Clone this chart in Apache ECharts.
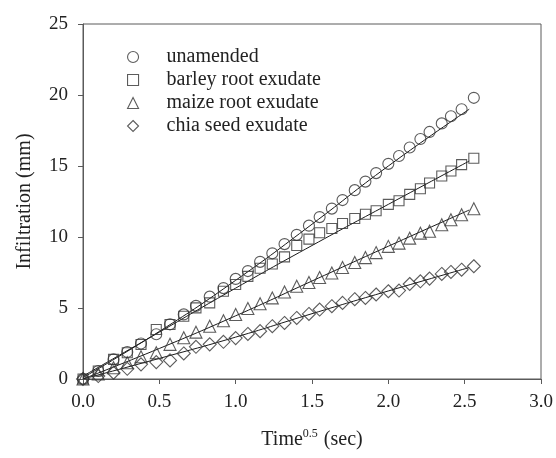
<!DOCTYPE html>
<html>
<head>
<meta charset="utf-8">
<script src="https://cdn.jsdelivr.net/npm/echarts@6/dist/echarts.min.js"></script>
<style>html,body{margin:0;padding:0;background:#fff}#c{width:556px;height:458px}</style>
</head>
<body>
<div id="c"></div>
<script>
// ---- data ----
var seriesNames = ['unamended', 'barley root exudate', 'maize root exudate', 'chia seed exudate'];
var timeX = [0, 0.10, 0.20, 0.29, 0.38, 0.48, 0.57, 0.66, 0.74, 0.83, 0.92, 1.00, 1.08, 1.16, 1.24,
             1.32, 1.40, 1.48, 1.55, 1.63, 1.70, 1.78, 1.85, 1.92, 2.00, 2.07, 2.14, 2.21, 2.27, 2.35, 2.41, 2.48, 2.56];
var unamended = [0, 0.56, 1.38, 1.9, 2.5, 3.15, 3.85, 4.55, 5.15, 5.8, 6.4, 7.05, 7.6, 8.25, 8.85,
                 9.5, 10.15, 10.8, 11.4, 12.0, 12.6, 13.3, 13.9, 14.5, 15.15, 15.7, 16.3, 16.9, 17.4, 18.0, 18.5, 19.0, 19.8];
var barley = [0, 0.56, 1.38, 1.85, 2.43, 3.49, 3.84, 4.42, 5.01, 5.36, 6.18, 6.65, 7.23, 7.8, 8.1,
              8.6, 9.4, 9.85, 10.3, 10.6, 10.95, 11.3, 11.6, 11.85, 12.3, 12.55, 13.0, 13.4, 13.8, 14.3, 14.65, 15.1, 15.55];
var maize = [0, 0.35, 0.79, 1.14, 1.57, 1.85, 2.44, 2.9, 3.3, 3.72, 4.1, 4.54, 4.97, 5.3, 5.71,
             6.13, 6.53, 6.8, 7.15, 7.46, 7.85, 8.2, 8.55, 8.9, 9.34, 9.57, 9.92, 10.27, 10.4, 10.86, 11.21, 11.57, 11.99];
var chia = [0, 0.21, 0.44, 0.72, 1.03, 1.19, 1.31, 1.8, 2.27, 2.44, 2.62, 2.88, 3.17, 3.37, 3.72,
            3.95, 4.3, 4.58, 4.89, 5.13, 5.36, 5.62, 5.71, 5.95, 6.18, 6.23, 6.69, 6.88, 7.07, 7.4, 7.54, 7.7, 7.94];
// fitted curves (read at a few points)
var fitX = [0, 0.5, 1.0, 1.5, 2.0, 2.53];
var fitUnamended = [0.1, 3.35, 6.95, 10.9, 15.0, 19.0];
var fitBarley = [0.2, 3.3, 6.4, 9.4, 12.3, 15.35];
var fitMaize = [0, 2.15, 4.45, 6.9, 9.35, 11.9];
var fitChia = [0, 1.45, 2.95, 4.6, 6.2, 7.85];
var xTicks = [0, 0.5, 1.0, 1.5, 2.0, 2.5, 3.0];
var yTicks = [0, 5, 10, 15, 20, 25];

var FONT = '"Liberation Serif", "DejaVu Serif", serif';
var symbols = ['circle', 'rect', 'triangle', 'diamond'];
var sizes = [11, 10, 12, 13];
var pointSets = [unamended, barley, maize, chia];
var fitSets = [fitUnamended, fitBarley, fitMaize, fitChia];

function pairs(xs, ys) { return xs.map(function (x, i) { return [x, ys[i]]; }); }

var series = [];
fitSets.forEach(function (f, i) {
  series.push({
    type: 'line', name: 'fit' + i, data: pairs(fitX, f), smooth: true, symbol: 'none',
    lineStyle: { color: '#1a1a1a', width: 1 }, z: 3, silent: true
  });
});
pointSets.forEach(function (p, i) {
  series.push({
    type: 'scatter', name: seriesNames[i], data: pairs(timeX, p),
    symbol: symbols[i], symbolSize: sizes[i],
    itemStyle: { color: 'rgba(255,255,255,0)', borderColor: '#333', borderWidth: 1.1 }, z: 4
  });
});

var chart = echarts.init(document.getElementById('c'), null, { renderer: 'canvas' });
chart.setOption({
  animation: false,
  backgroundColor: '#fff',
  grid: { left: 83, right: 15, top: 24, bottom: 79, show: true, borderColor: '#5a5a5a', borderWidth: 1, backgroundColor: 'transparent' },
  legend: {
    orient: 'vertical', left: 122, top: 42, itemGap: 3, itemWidth: 11, itemHeight: 11,
    data: seriesNames.map(function (n, i) { return { name: n, icon: symbols[i] }; }),
    itemStyle: { color: 'rgba(255,255,255,0)', borderColor: '#333', borderWidth: 1.1 },
    textStyle: { fontFamily: FONT, fontSize: 20, color: '#222', lineHeight: 20, padding: [0, 0, 0, 23] },
    selectedMode: false
  },
  xAxis: {
    type: 'value', min: xTicks[0], max: xTicks[xTicks.length - 1], interval: 0.5,
    axisLine: { show: true, lineStyle: { color: '#5a5a5a', width: 1 } },
    axisTick: { show: true, inside: false, length: 5, lineStyle: { color: '#5a5a5a' } },
    splitLine: { show: false },
    axisLabel: { fontFamily: FONT, fontSize: 19, color: '#222', margin: 14, formatter: function (v) { return v.toFixed(1); } },
    name: 'Time{sup|0.5} (sec)', nameLocation: 'middle', nameGap: 49,
    nameTextStyle: { fontFamily: FONT, fontSize: 20, color: '#222',
      rich: { sup: { fontFamily: FONT, fontSize: 12, color: '#222', padding: [0, 1, 12, 0] } } }
  },
  yAxis: {
    type: 'value', min: yTicks[0], max: yTicks[yTicks.length - 1], interval: 5,
    axisLine: { show: true, lineStyle: { color: '#5a5a5a', width: 1 } },
    axisTick: { show: true, inside: false, length: 5, lineStyle: { color: '#5a5a5a' } },
    splitLine: { show: false },
    axisLabel: { fontFamily: FONT, fontSize: 19, color: '#222', margin: 15 },
    name: 'Infiltration (mm)', nameLocation: 'middle', nameGap: 48,
    nameTextStyle: { fontFamily: FONT, fontSize: 20, color: '#222' }
  },
  series: series
});
</script>
</body>
</html>
